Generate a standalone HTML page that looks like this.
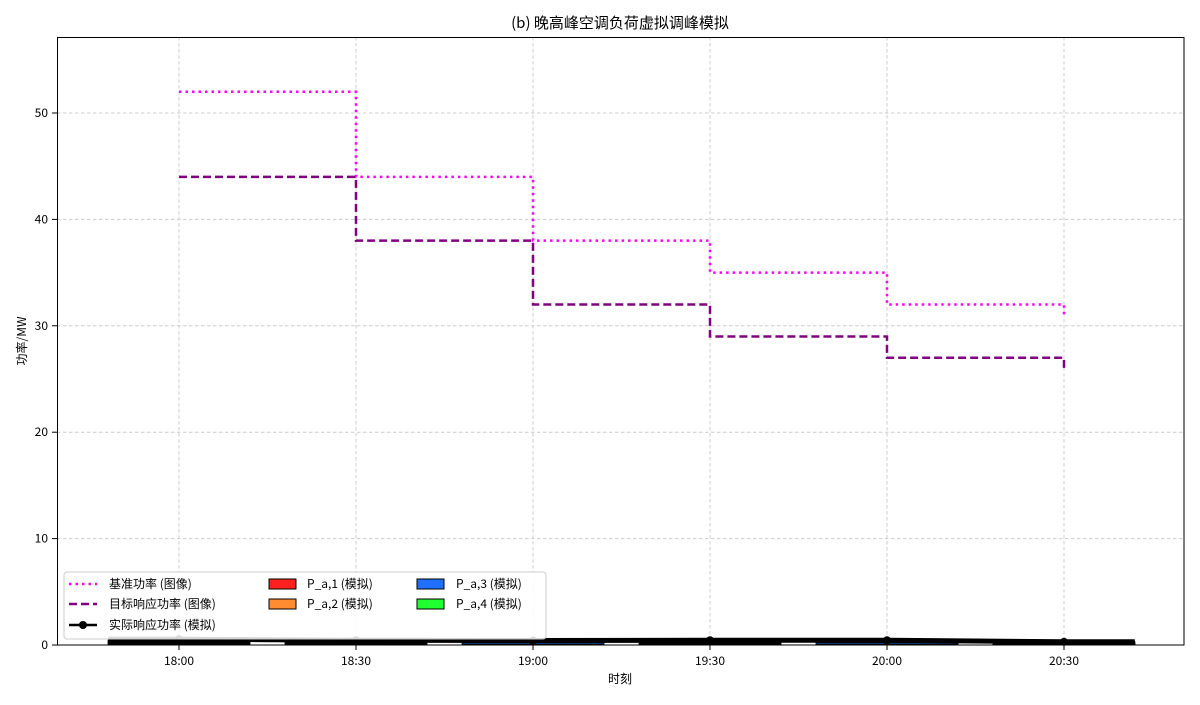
<!DOCTYPE html>
<html><head><meta charset="utf-8"><style>
body{margin:0;background:#fff;}
svg text{font-family:"WenQuanYi Zen Hei","Noto Sans CJK SC","Liberation Sans",sans-serif;fill:#000;}
</style></head><body>
<svg id="chart" width="1200" height="700" xmlns="http://www.w3.org/2000/svg">
<rect x="0" y="0" width="1200" height="700" fill="#fff"/>
<g id="grid"></g>
<g id="bars"></g>
<g id="lines"></g>
<rect x="57.5" y="37.5" width="1126.5" height="607.5" fill="none" stroke="#000" stroke-width="1"/>
<g id="axes"></g>
<text x="620" y="28" font-size="15" text-anchor="middle">(b) 晚高峰空调负荷虚拟调峰模拟</text>
<text x="620" y="683" font-size="12" text-anchor="middle">时刻</text>
<text x="0" y="0" font-size="12" text-anchor="middle" transform="translate(26,341) rotate(-90)">功率/MW</text>
<g>
<rect x="64" y="572" width="482" height="67" fill="#fff" fill-opacity="0.85" stroke="#ccc" rx="3"/>
<line x1="69" y1="584" x2="97" y2="584" stroke="#ff00ff" stroke-width="2.5" stroke-dasharray="2.5,4"/>
<text x="109" y="588" font-size="12">基准功率 (图像)</text>
<line x1="69" y1="604" x2="97" y2="604" stroke="#800080" stroke-width="2.5" stroke-dasharray="8,4"/>
<text x="109" y="608" font-size="12">目标响应功率 (图像)</text>
<line x1="69" y1="625" x2="97" y2="625" stroke="#000" stroke-width="2.5"/><circle cx="83" cy="625" r="4" fill="#000"/>
<text x="109" y="629" font-size="12">实际响应功率 (模拟)</text>
<rect x="269" y="579" width="27" height="10" fill="#ff2020" stroke="#000"/>
<text x="307" y="588" font-size="12">P_a,1 (模拟)</text>
<rect x="269" y="599" width="27" height="10" fill="#ff8c30" stroke="#000"/>
<text x="307" y="608" font-size="12">P_a,2 (模拟)</text>
<rect x="417" y="579" width="27" height="10" fill="#2070ff" stroke="#000"/>
<text x="456" y="588" font-size="12">P_a,3 (模拟)</text>
<rect x="417" y="599" width="27" height="10" fill="#20ff30" stroke="#000"/>
<text x="456" y="608" font-size="12">P_a,4 (模拟)</text>
</g>
</svg>
<script>
const times = [0, 30, 60, 90, 120, 150];
const tickLabels = ["18:00","18:30","19:00","19:30","20:00","20:30"];
const yTicks = [0,10,20,30,40,50];
const baseline = [52, 44, 38, 35, 32, 30.9];
const target = [44, 38, 32, 29, 27, 25.9];
const actual = [0.55, 0.45, 0.42, 0.45, 0.45, 0.3];
const pa1 = [0.1, 0.05, 0.05, 0.05, 0.05, 0.05];
const pa2 = [0.1, 0.1, 0.05, 0.1, 0.05, 0.05];
const pa3 = [0.1, 0.1, 0.15, 0.1, 0.15, 0.1];
const pa4 = [0.15, 0.1, 0.1, 0.1, 0.1, 0.1];
const NS="http://www.w3.org/2000/svg";
const X = m => 179 + (m)*177/30;
const Y = v => 645 - v*10.64;
function mk(tag, attrs, parent){const e=document.createElementNS(NS,tag);for(const k in attrs)e.setAttribute(k,attrs[k]);parent.appendChild(e);return e;}
const grid=document.getElementById('grid'), axes=document.getElementById('axes'), bars=document.getElementById('bars'), lines=document.getElementById('lines');
times.forEach((t,i)=>{
  const g=mk('line',{x1:X(t),x2:X(t),y1:37,y2:645,stroke:'#cccccc','stroke-dasharray':'3.5,2.5'},grid);
  
  
  const tk=mk('line',{x1:X(t),x2:X(t),y1:645,y2:650,stroke:'#000'},axes);
  
  
  const tx=mk('text',{x:X(t),y:665,'font-size':12,'text-anchor':'middle'},axes);
  tx.textContent=tickLabels[i];
  
  
});
yTicks.forEach(v=>{
  if(v>0){const g=mk('line',{x1:57,x2:1184,y1:Y(v),y2:Y(v),stroke:'#cccccc','stroke-dasharray':'3.5,2.5'},grid);
  
  }
  const tk=mk('line',{x1:52,x2:57,y1:Y(v),y2:Y(v),stroke:'#000'},axes);
  
  
  const tx=mk('text',{x:48,y:Y(v)+4,'font-size':12,'text-anchor':'end'},axes);
  tx.textContent=v;
  
  
});
const series=[[pa1,'#ff2020'],[pa2,'#ff8c30'],[pa3,'#2070ff'],[pa4,'#20ff30']];
times.forEach((t,i)=>{
  let base=0;
  series.forEach(([arr,c],k)=>{
    const h=arr[i];
    const r=mk('rect',{x:X(t-12),y:Y(base+h),width:X(t+12)-X(t-12),height:Math.max(Y(base)-Y(base+h),0.5),fill:c,stroke:'#000','stroke-width':1},bars);
    
    
    base+=h;
  });
});
function step(arr,color,dash,name){
  let d='M'+X(times[0])+','+Y(arr[0]);
  for(let i=1;i<times.length;i++){d+=' H'+X(times[i])+' V'+Y(arr[i]);}
  const p=mk('path',{d:d,fill:'none',stroke:color,'stroke-width':2.5,'stroke-dasharray':dash},lines);
  
  
}
step(baseline,'#ff00ff','2.5,4','baseline-line');
step(target,'#800080','8,4','target-line');
let d='M'+X(times[0]-12)+','+Y(actual[0]);
times.forEach((t,i)=>{d+=' L'+X(t)+','+Y(actual[i]);});
d+=' L'+X(times[times.length-1]+12)+','+Y(actual[actual.length-1]);
const al=mk('path',{d:d,fill:'none',stroke:'#000','stroke-width':5},lines);


times.forEach((t,i)=>{
  const c=mk('circle',{cx:X(t),cy:Y(actual[i]),r:4,fill:'#000'},lines);
  
  
});
</script>
</body></html>
